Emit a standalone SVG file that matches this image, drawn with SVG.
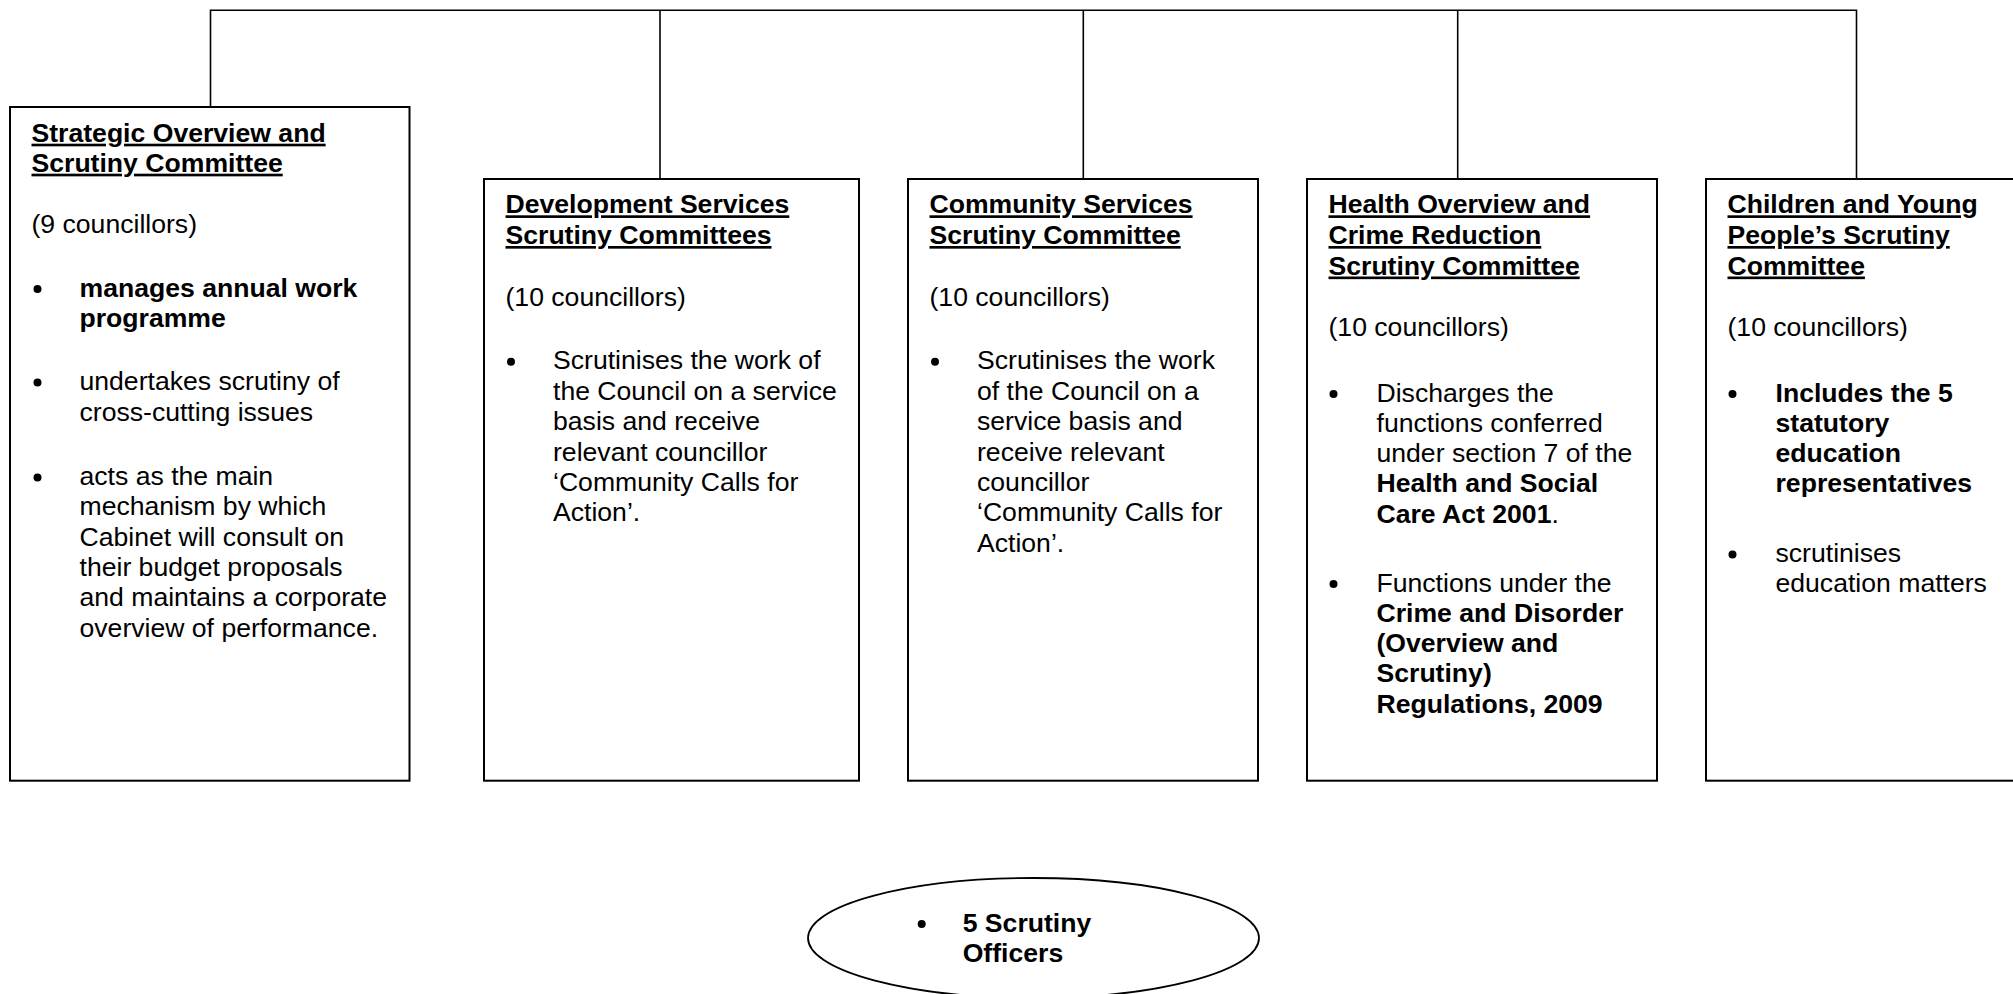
<svg xmlns="http://www.w3.org/2000/svg" width="2013" height="994" viewBox="0 0 2013 994">
<style>
.t{font-family:"Liberation Sans",Arial,sans-serif;font-size:26.6px;fill:#000}
.b{font-weight:bold}
.u{text-decoration:underline}
.box{fill:#fff;stroke:#000;stroke-width:2}
.conn{fill:none;stroke:#000;stroke-width:1.6}
.dot{fill:#000}
</style>
<rect x="0" y="0" width="2013" height="994" fill="#fff"/>
<g id="connectors">
<path class="conn" d="M210.5 107 V10.3 H1856.5 V179"/>
<path class="conn" d="M660 10.3 V179"/>
<path class="conn" d="M1083.3 10.3 V179"/>
<path class="conn" d="M1457.7 10.3 V179"/>
</g>
<g id="strategic">
<rect class="box" x="10" y="107" width="399.5" height="673.7"/>
<text class="t b u" x="31.5" y="141.7">Strategic Overview and</text>
<text class="t b u" x="31.5" y="171.7">Scrutiny Committee</text>
<text class="t" x="31.5" y="233.3">(9 councillors)</text>
<circle class="dot" cx="37.5" cy="289" r="4"/>
<text class="t b" x="79.5" y="296.7">manages annual work</text>
<text class="t b" x="79.5" y="326.7">programme</text>
<circle class="dot" cx="37.5" cy="382.5" r="4"/>
<text class="t" x="79.5" y="390">undertakes scrutiny of</text>
<text class="t" x="79.5" y="420.7">cross-cutting issues</text>
<circle class="dot" cx="37.5" cy="477.5" r="4"/>
<text class="t" x="79.5" y="485">acts as the main</text>
<text class="t" x="79.5" y="515.3">mechanism by which</text>
<text class="t" x="79.5" y="545.6">Cabinet will consult on</text>
<text class="t" x="79.5" y="576">their budget proposals</text>
<text class="t" x="79.5" y="606.4">and maintains a corporate</text>
<text class="t" x="79.5" y="636.8">overview of performance.</text>
</g>
<g id="development">
<rect class="box" x="484" y="179" width="375" height="601.7"/>
<text class="t b u" x="505.5" y="213.3">Development Services</text>
<text class="t b u" x="505.5" y="244">Scrutiny Committees</text>
<text class="t" x="505.5" y="305.7">(10 councillors)</text>
<circle class="dot" cx="511" cy="361.8" r="4"/>
<text class="t" x="553" y="369.3">Scrutinises the work of</text>
<text class="t" x="553" y="399.7">the Council on a service</text>
<text class="t" x="553" y="430.1">basis and receive</text>
<text class="t" x="553" y="460.5">relevant councillor</text>
<text class="t" x="553" y="490.9">‘Community Calls for</text>
<text class="t" x="553" y="521.3">Action’.</text>
</g>
<g id="community">
<rect class="box" x="908" y="179" width="350" height="601.7"/>
<text class="t b u" x="929.5" y="213.3">Community Services</text>
<text class="t b u" x="929.5" y="244">Scrutiny Committee</text>
<text class="t" x="929.5" y="305.7">(10 councillors)</text>
<circle class="dot" cx="935" cy="361.8" r="4"/>
<text class="t" x="977" y="369.3">Scrutinises the work</text>
<text class="t" x="977" y="399.7">of the Council on a</text>
<text class="t" x="977" y="430.1">service basis and</text>
<text class="t" x="977" y="460.5">receive relevant</text>
<text class="t" x="977" y="490.9">councillor</text>
<text class="t" x="977" y="521.3">‘Community Calls for</text>
<text class="t" x="977" y="551.7">Action’.</text>
</g>
<g id="health">
<rect class="box" x="1307" y="179" width="350" height="601.7"/>
<text class="t b u" x="1328.5" y="213.3">Health Overview and</text>
<text class="t b u" x="1328.5" y="244">Crime Reduction</text>
<text class="t b u" x="1328.5" y="274.5">Scrutiny Committee</text>
<text class="t" x="1328.5" y="335.7">(10 councillors)</text>
<circle class="dot" cx="1333.5" cy="394" r="4"/>
<text class="t" x="1376.5" y="401.7">Discharges the</text>
<text class="t" x="1376.5" y="432">functions conferred</text>
<text class="t" x="1376.5" y="462.2">under section 7 of the</text>
<text class="t b" x="1376.5" y="492.4">Health and Social</text>
<text class="t" x="1376.5" y="522.6"><tspan class="b">Care Act 2001</tspan>.</text>
<circle class="dot" cx="1333.5" cy="584" r="4"/>
<text class="t" x="1376.5" y="591.7">Functions under the</text>
<text class="t b" x="1376.5" y="622">Crime and Disorder</text>
<text class="t b" x="1376.5" y="652.2">(Overview and</text>
<text class="t b" x="1376.5" y="682.4">Scrutiny)</text>
<text class="t b" x="1376.5" y="712.6">Regulations, 2009</text>
</g>
<g id="children">
<rect class="box" x="1706" y="179" width="330" height="601.7"/>
<text class="t b u" x="1727.5" y="213.3">Children and Young</text>
<text class="t b u" x="1727.5" y="244">People’s Scrutiny</text>
<text class="t b u" x="1727.5" y="274.5">Committee</text>
<text class="t" x="1727.5" y="335.7">(10 councillors)</text>
<circle class="dot" cx="1732.5" cy="394" r="4"/>
<text class="t b" x="1775.5" y="401.7">Includes the 5</text>
<text class="t b" x="1775.5" y="432">statutory</text>
<text class="t b" x="1775.5" y="462.2">education</text>
<text class="t b" x="1775.5" y="492.4">representatives</text>
<circle class="dot" cx="1732.5" cy="554.5" r="4"/>
<text class="t" x="1775.5" y="561.7">scrutinises</text>
<text class="t" x="1775.5" y="592">education matters</text>
</g>
<g id="officers">
<ellipse cx="1033.5" cy="938" rx="225.5" ry="60" fill="#fff" stroke="#000" stroke-width="1.8"/>
<circle class="dot" cx="921.7" cy="924" r="4"/>
<text class="t b" x="962.7" y="931.7">5 Scrutiny</text>
<text class="t b" x="962.7" y="961.5">Officers</text>
</g>
</svg>
